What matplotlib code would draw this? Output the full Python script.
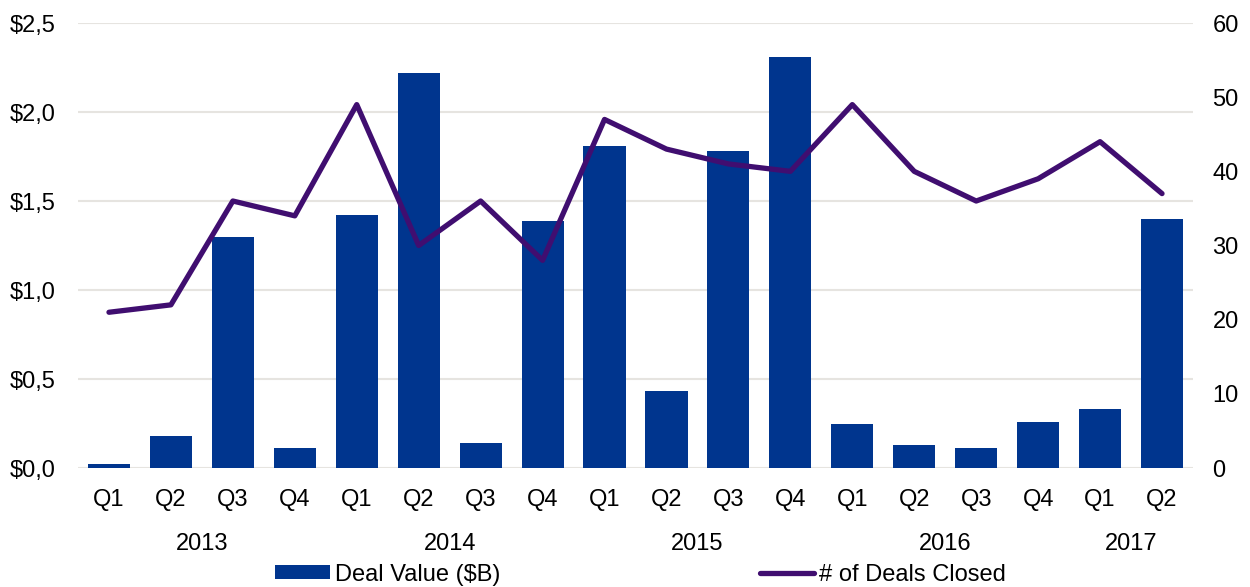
import matplotlib.pyplot as plt
from matplotlib.transforms import blended_transform_factory
from numpy import arange

plt.rcParams['font.family'] = ['Liberation Sans', 'DejaVu Sans']

quarters = ['Q1', 'Q2', 'Q3', 'Q4', 'Q1', 'Q2', 'Q3', 'Q4', 'Q1',
            'Q2', 'Q3', 'Q4', 'Q1', 'Q2', 'Q3', 'Q4', 'Q1', 'Q2']
years = ['2013', '2014', '2015', '2016', '2017']
year_quarters = [4, 4, 4, 4, 2]
deal_value = [0.02, 0.18, 1.30, 0.11, 1.42, 2.22, 0.14, 1.39, 1.81,
              0.43, 1.78, 2.31, 0.25, 0.13, 0.11, 0.26, 0.33, 1.40]
deals_closed = [21, 22, 36, 34, 49, 30, 36, 28, 47,
                43, 41, 40, 49, 40, 36, 39, 44, 37]

bar_color = '#00358E'
line_color = '#400E70'
grid_color = '#E6E4E0'
font_size = 17

fig = plt.figure(figsize=(12.5, 5.87), dpi=100)
ax = fig.add_axes([0.0624, 0.2027, 0.892, 0.7581])
ax2 = ax.twinx()

x = arange(len(quarters))
bars = ax.bar(x, deal_value, width=0.68, color=bar_color, zorder=2,
              label='Deal Value ($B)')
line, = ax2.plot(x, deals_closed, color=line_color, linewidth=3.8,
                 solid_capstyle='round', zorder=3, label='# of Deals Closed')

ax.set_xlim(-0.5, len(quarters) - 0.5)
ax.set_ylim(0, 2.5)
ax2.set_ylim(0, 60)
ax.set_yticks(arange(0, 2.51, 0.5))
ax.set_yticklabels([f'${v:.1f}'.replace('.', ',') for v in arange(0, 2.51, 0.5)])
ax2.set_yticks(arange(0, 61, 10))

ax.yaxis.grid(True, color=grid_color, linewidth=1.5, zorder=0)
ax.set_axisbelow(True)
ax.set_xticks(x)
ax.set_xticklabels(quarters)

for a in (ax, ax2):
    for s in a.spines.values():
        s.set_visible(False)
    a.tick_params(length=0, labelsize=font_size)
ax.tick_params(axis='y', pad=16)
ax2.tick_params(axis='y', pad=14)
ax.tick_params(axis='x', pad=15)
ax2.set_zorder(ax.get_zorder() + 1)
ax2.patch.set_visible(False)

# year labels centred under their quarters
trans = blended_transform_factory(ax.transData, ax.transAxes)
start = 0
for year, n in zip(years, year_quarters):
    ax.text(start + (n - 1) / 2, -0.17, year, transform=trans,
            ha='center', va='center', fontsize=font_size)
    start += n

fig.legend(handles=[bars, line], loc='center', bbox_to_anchor=(0.5124, 0.021),
           ncol=2, frameon=False, fontsize=font_size, handlelength=2.3,
           handleheight=0.55, handletextpad=0.2, columnspacing=11.0,
           borderaxespad=0, borderpad=0)

fig.savefig('out.png', dpi=100)
